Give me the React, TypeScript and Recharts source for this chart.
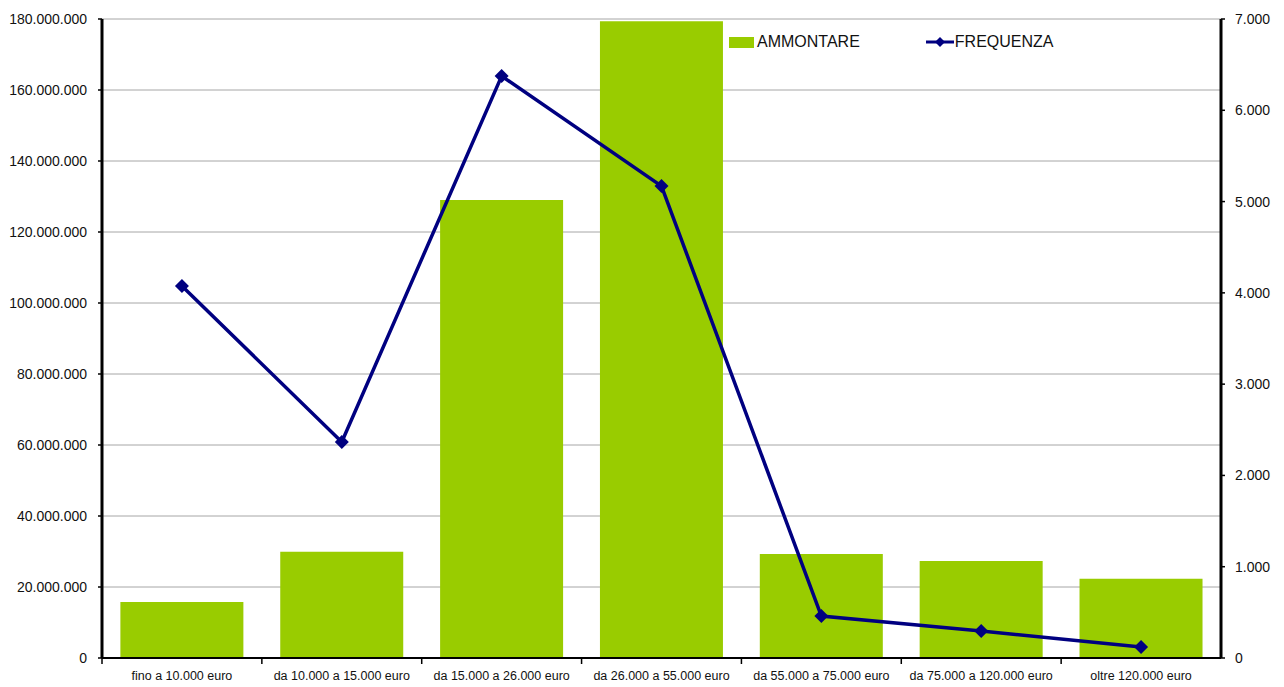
import React from 'react';
import { ComposedChart, Bar, Line, XAxis, YAxis, CartesianGrid } from 'recharts';

const categories = [
  'fino a 10.000 euro',
  'da 10.000 a 15.000 euro',
  'da 15.000 a 26.000 euro',
  'da 26.000 a 55.000 euro',
  'da 55.000 a 75.000 euro',
  'da 75.000 a 120.000 euro',
  'oltre 120.000 euro',
];
const ammontare = [15800000, 29900000, 129000000, 179400000, 29300000, 27300000, 22300000];
const frequenza = [4075, 2366, 6375, 5170, 460, 296, 120];
const leftTicks = [0, 20000000, 40000000, 60000000, 80000000, 100000000, 120000000, 140000000, 160000000, 180000000];
const rightTicks = [0, 1000, 2000, 3000, 4000, 5000, 6000, 7000];

const data = categories.map((name, i) => ({ name, ammontare: ammontare[i], frequenza: frequenza[i] }));

const W = 1284;
const H = 687;
const LEFT_W = 102;
const RIGHT_W = 63;
const FONT = '"Liberation Sans", Arial, sans-serif';
const GREEN = '#99CC00';
const NAVY = '#000080';

// 180000000 -> "180.000.000"
function fmt(v: number): string {
  return String(v).replace(/\B(?=(\d{3})+(?!\d))/g, '.');
}

const halfBand = (W - LEFT_W - RIGHT_W) / categories.length / 2;

function CategoryTick(props: any) {
  const { x, y, payload } = props;
  return (
    <g>
      <line x1={x - halfBand} x2={x - halfBand} y1={y - 8} y2={y - 2} stroke="#000" strokeWidth={1.5} />
      <text x={x} y={y + 14} textAnchor="middle" fontSize={12.5} fill="#111" fontFamily={FONT}>
        {payload.value}
      </text>
    </g>
  );
}

function Diamond(props: any) {
  const { cx, cy, index } = props;
  if (cx == null || cy == null) return null;
  const r = 7;
  return <path key={index} d={`M${cx},${cy - r}L${cx + r},${cy}L${cx},${cy + r}L${cx - r},${cy}Z`} fill={NAVY} />;
}

export default function App() {
  return (
    <div style={{ position: 'absolute', left: 0, top: 0, width: W, height: H, background: '#fff', fontFamily: FONT }}>
      <ComposedChart
        width={W}
        height={H}
        data={data}
        margin={{ top: 19, right: 0, bottom: 0, left: 0 }}
        barCategoryGap="11.5%"
      >
        <CartesianGrid yAxisId="left" vertical={false} stroke="#a6a6a6" strokeWidth={1} />
        <XAxis
          dataKey="name"
          height={29}
          stroke="#000"
          axisLine={{ stroke: '#000', strokeWidth: 2 }}
          tickLine={false}
          tick={<CategoryTick />}
          interval={0}
        />
        <YAxis
          yAxisId="left"
          width={LEFT_W}
          domain={[0, 180000000]}
          ticks={leftTicks}
          tickFormatter={fmt}
          stroke="#000"
          axisLine={{ stroke: '#000', strokeWidth: 3 }}
          tickLine={{ stroke: '#000', strokeWidth: 1.5 }}
          tickSize={4}
          tickMargin={11}
          tick={{ fontSize: 14, fill: '#111', fontFamily: FONT }}
        />
        <YAxis
          yAxisId="right"
          orientation="right"
          width={RIGHT_W}
          domain={[0, 7000]}
          ticks={rightTicks}
          tickFormatter={fmt}
          stroke="#000"
          axisLine={{ stroke: '#000', strokeWidth: 3 }}
          tickLine={{ stroke: '#000', strokeWidth: 1.5 }}
          tickSize={4}
          tickMargin={10}
          tick={{ fontSize: 14, fill: '#111', fontFamily: FONT }}
        />
        <Bar yAxisId="left" dataKey="ammontare" fill={GREEN} isAnimationActive={false} />
        <Line
          yAxisId="right"
          type="linear"
          dataKey="frequenza"
          stroke={NAVY}
          strokeWidth={3.5}
          dot={<Diamond />}
          activeDot={false}
          isAnimationActive={false}
        />
      </ComposedChart>
      <div style={{ position: 'absolute', left: 729, top: 33, display: 'flex', alignItems: 'center', fontSize: 16, color: '#111' }}>
        <span style={{ display: 'inline-block', width: 25, height: 11, background: GREEN, marginRight: 3 }} />
        <span>AMMONTARE</span>
        <svg width={28} height={12} style={{ marginLeft: 66, marginRight: 1 }}>
          <line x1={0} y1={6} x2={28} y2={6} stroke={NAVY} strokeWidth={3} />
          <path d="M14,1L19,6L14,11L9,6Z" fill={NAVY} />
        </svg>
        <span>FREQUENZA</span>
      </div>
    </div>
  );
}
